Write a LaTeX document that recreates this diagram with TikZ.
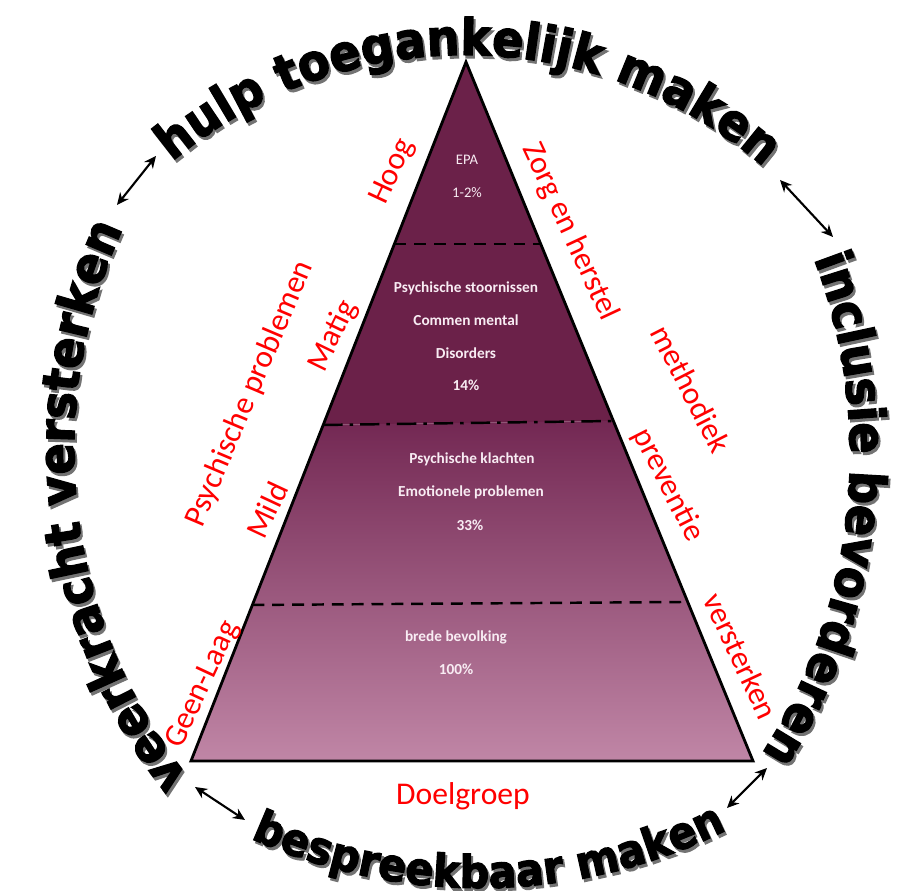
\documentclass[tikz,border=0pt]{standalone}
\usepackage{fontspec}
\newfontfamily\carlito{Carlito}
\newfontfamily\ringfont[FakeBold=2.6,FakeStretch=0.92]{DejaVu Sans Bold}
\usetikzlibrary{decorations.text,arrows.meta,calc}
\definecolor{pyrdark}{HTML}{6B2149}
\definecolor{pyrmid}{HTML}{732853}
\definecolor{pyrlight}{HTML}{C086A6}
\definecolor{labelred}{HTML}{FF0000}
\definecolor{inwhite}{HTML}{F8ECF3}
\definecolor{shadowgray}{gray}{0.45}
\begin{document}
\begin{tikzpicture}[x=0.02cm,y=0.02cm,
  redlabel/.style={text=labelred, font=\carlito\fontsize{18}{20}\selectfont, inner sep=0pt},
  inlabel/.style={text=inwhite, font=\carlito\bfseries\fontsize{8.7}{10}\selectfont, inner sep=0pt},
  inlabelreg/.style={text=inwhite, font=\carlito\fontsize{8.3}{10}\selectfont, inner sep=0pt},
  divider/.style={line width=1.4pt, dash pattern=on 6.8pt off 4.5pt},
  dividerdot/.style={line width=1.4pt, dash pattern=on 11pt off 4pt on 2pt off 4pt},
  duo/.style={{Stealth[length=2.4mm,width=2.2mm]}-{Stealth[length=2.4mm,width=2.2mm]}, line width=1.2pt},
]
\fill[white] (0,0) rectangle (921,891);
\useasboundingbox (0,0) rectangle (921,891);

% pyramid
\coordinate (apex) at (466,829);
\coordinate (bl) at (191,130);
\coordinate (br) at (753,130);
\coordinate (l1L) at ($(apex)!0.2604!(bl)$);
\coordinate (l1R) at ($(apex)!0.2604!(br)$);
\coordinate (l2L) at ($(apex)!0.5193!(bl)$);
\coordinate (l2R) at ($(apex)!0.5136!(br)$);
\coordinate (l3L) at ($(apex)!0.7768!(bl)$);
\coordinate (l3R) at ($(apex)!0.7725!(br)$);

\fill[pyrdark] (apex) -- (l2L) -- (l2R) -- cycle;
\shade[top color=pyrmid, bottom color=pyrlight] (l2L) -- (bl) -- (br) -- (l2R) -- cycle;
\draw[line width=1.6pt, line join=miter] (apex) -- (bl) -- (br) -- cycle;
\draw[divider] (l1L) -- (l1R);
\draw[dividerdot] (l2L) -- (l2R);
\draw[divider] (l3L) -- (l3R);

% inner texts
\node[inlabelreg] (epa) at (467,731) {EPA};
\node[inlabelreg] (epap) at (467,698) {1-2\%};
\node[inlabel] (ps1) at (466,603) {Psychische stoornissen};
\node[inlabel] (ps2) at (466,571) {Commen mental};
\node[inlabel] (ps3) at (466,538) {Disorders};
\node[inlabel] (ps4) at (466,506) {14\%};
\node[inlabel] (pk1) at (472,432) {Psychische klachten};
\node[inlabel] (pk2) at (471,399) {Emotionele problemen};
\node[inlabel] (pk3) at (470,366) {33\%};
\node[inlabel] (bb1) at (456,254) {brede bevolking};
\node[inlabel] (bb2) at (456,222) {100\%};

% red labels
\node[redlabel, rotate=65] (hoog) at (393,719) {Hoog};
\node[redlabel, rotate=64] (matig) at (333,555) {Matig};
\node[redlabel, rotate=65] (mild) at (267,381) {Mild};
\node[redlabel, rotate=67] (psy) at (250,497) {Psychische problemen};
\node[redlabel, rotate=65] (geen) at (203,206) {Geen-Laag};
\node[redlabel, rotate=-65] (zorg) at (570,659) {Zorg en herstel};
\node[redlabel, rotate=-63] (meth) at (691,502) {methodiek};
\node[redlabel, rotate=-63] (prev) at (668,406) {preventie};
\node[redlabel, rotate=-65] (verst) at (741,235) {versterken};
\node[redlabel, anchor=base] (doel) at (463,86) {Doelgroep};

% ring texts
\coordinate (ctop) at (465,381);
\coordinate (cleft) at (600,441);
\coordinate (cright) at (300,436);
\coordinate (cbot) at (480,557);
\foreach \dx/\dy/\col in {2/-3/shadowgray, 0/0/black} {
  \path[decorate, decoration={text along path, text align=center,
      text={|\ringfont\fontsize{28.6}{32}\selectfont\color{\col}|hulp toegankelijk maken}}]
    ($(ctop)+(\dx,\dy)+(149.5:455)$) arc[start angle=149.5, end angle=29.5, radius=9.10cm];
  \path[decorate, decoration={text along path, text align=center,
      text={|\ringfont\fontsize{28.6}{32}\selectfont\color{\col}|veerkracht versterken}}]
    ($(cleft)+(\dx,\dy)+(236.8:526)$) arc[start angle=236.8, end angle=136.8, radius=10.52cm];
  \path[decorate, decoration={text along path, text align=center,
      text={|\ringfont\fontsize{28.6}{32}\selectfont\color{\col}|inclusie bevorderen}}]
    ($(cright)+(\dx,\dy)+(39:550)$) arc[start angle=39, end angle=-51, radius=11.00cm];
  \path[decorate, decoration={text along path, text align=center,
      text={|\ringfont\fontsize{25.6}{30}\selectfont\color{\col}|bespreekbaar maken}}]
    ($(cbot)+(\dx,\dy)+(-129:554)$) arc[start angle=-129, end angle=-49, radius=11.08cm];
}

% arrows
\coordinate (a1s) at (117,686);
\coordinate (a1e) at (156,735);
\coordinate (a2s) at (780,711);
\coordinate (a2e) at (833,654);
\coordinate (a3s) at (727,83);
\coordinate (a3e) at (767,123);
\coordinate (a4s) at (195,104);
\coordinate (a4e) at (245,71);
\draw[duo] (a1s) -- (a1e);
\draw[duo] (a2s) -- (a2e);
\draw[duo] (a3s) -- (a3e);
\draw[duo] (a4s) -- (a4e);
\end{tikzpicture}
\end{document}
